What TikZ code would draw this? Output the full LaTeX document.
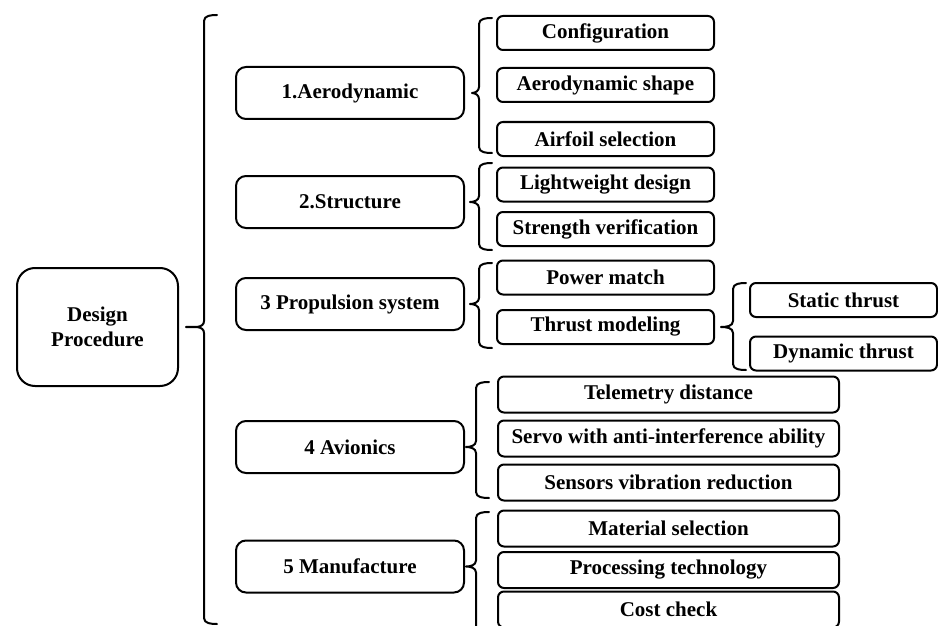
\documentclass[tikz,border=0pt]{standalone}
\usepackage{fontspec}
\setmainfont{Liberation Serif}
\usetikzlibrary{calc}
\tikzset{
  box/.style={draw,line width=2pt,rounded corners=6pt,inner sep=0pt,
    font=\fontsize{21}{25}\selectfont\bfseries},
  topbox/.style={box,rounded corners=18pt,minimum width=161pt,minimum height=118pt,align=center},
  mainbox/.style={box,rounded corners=10pt,minimum width=228pt,minimum height=52pt},
  subbox/.style={box,minimum width=217pt,minimum height=34pt},
  leafbox/.style={box,minimum width=187pt,minimum height=34pt},
  widebox/.style={box,minimum width=341pt,minimum height=36pt},
  brace/.style={line width=2pt,line cap=round,line join=round}
}
\newcommand{\grpbrace}[5]{%
  \coordinate (sp) at (#2,0);
  \coordinate (tp) at ($(#1.east)+(#5,0)$);
  \draw[brace] (#2+13,#3) to[out=180,in=90] (#2,#3+6)
    -- ($(tp -| sp)+(0,-6)$) to[out=-90,in=0] (tp)
    to[out=0,in=90] ($(tp -| sp)+(0,6)$)
    -- (#2,#4-6) to[out=-90,in=180] (#2+13,#4);}

\begin{document}
\begin{tikzpicture}[x=1pt,y=-1pt]
  \useasboundingbox (0,0) rectangle (938,626);

  \node[topbox] (design) at (97.5,327) {Design\\Procedure};

  \node[mainbox] (aero) at (350,93) {1.Aerodynamic};
  \node[mainbox] (struct) at (350,202) {2.Structure};
  \node[mainbox] (prop) at (350,304) {3 Propulsion system};
  \node[mainbox] (avio) at (350,447) {4 Avionics};
  \node[mainbox] (manu) at (350,566.5) {5 Manufacture};

  \node[subbox] (config) at (605.5,33) {Configuration};
  \node[subbox] (shape) at (605.5,85) {Aerodynamic shape};
  \node[subbox] (airfoil) at (605.5,139) {Airfoil selection};
  \node[subbox] (light) at (605.5,184.5) {Lightweight design};
  \node[subbox] (strength) at (605.5,229) {Strength verification};
  \node[subbox] (power) at (605.5,277.5) {Power match};
  \node[subbox] (thrustm) at (605.5,327) {Thrust modeling};

  \node[leafbox] (static) at (843.5,300) {Static thrust};
  \node[leafbox] (dynamic) at (843.5,353.5) {Dynamic thrust};

  \node[widebox] (tele) at (668.5,394.5) {Telemetry distance};
  \node[widebox] (servo) at (668.5,438.5) {Servo with anti-interference ability};
  \node[widebox] (sensor) at (668.5,482.5) {Sensors vibration reduction};
  \node[widebox] (material) at (668.5,528.5) {Material selection};
  \node[widebox] (process) at (668.5,570) {Processing technology};
  \node[widebox] (cost) at (668.5,609.5) {Cost check};

  \grpbrace{design}{204}{15}{624}{7}
  \grpbrace{aero}{479}{18}{153}{7}
  \grpbrace{struct}{479}{163}{250}{5}
  \grpbrace{prop}{479}{263}{348}{5}
  \grpbrace{thrustm}{733}{283}{370}{6}
  \grpbrace{avio}{476}{382}{498}{1}
  \grpbrace{manu}{476}{512}{640}{1}
\end{tikzpicture}
\end{document}
